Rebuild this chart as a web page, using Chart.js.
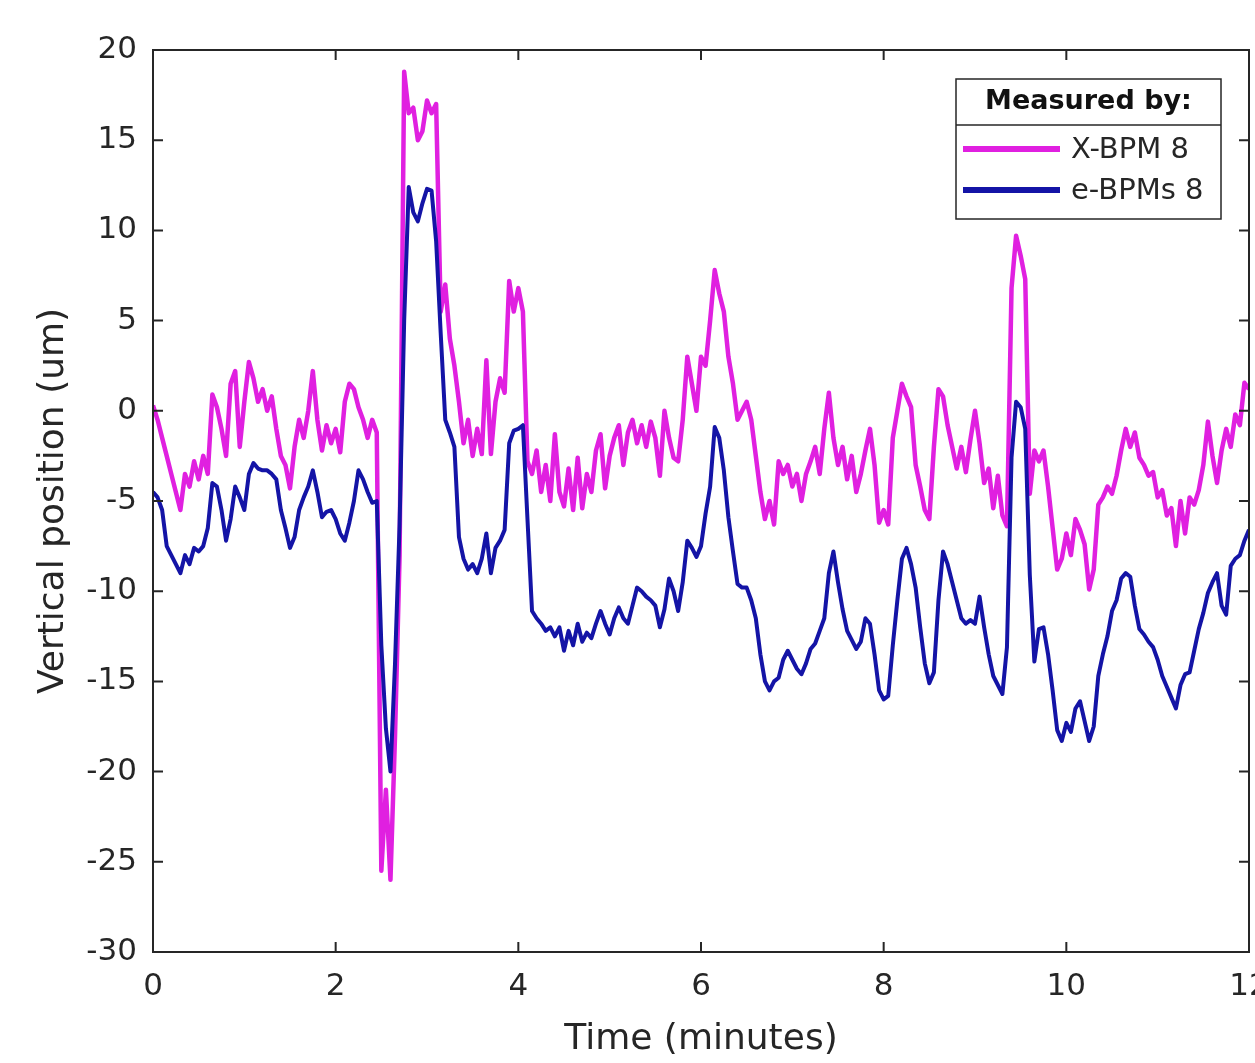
<!DOCTYPE html>
<html>
<head>
<meta charset="utf-8">
<title>Vertical position</title>
<script src="https://cdn.jsdelivr.net/npm/chart.js@4.4.1/dist/chart.umd.min.js"></script>
<style>
  html, body { margin: 0; padding: 0; background: #ffffff; }
  canvas { display: block; }
</style>
</head>
<body>
<canvas id="chart" width="1255" height="1063"></canvas>
<script>
// sampling grid (minutes), one sample every 0.05 min
const sampleStep = 0.05;
const times = Array.from({ length: 241 }, (_, i) => +(i * sampleStep).toFixed(2));

// X-BPM 8, one row per minute
const xbpm8 = [
  0.3, -0.5, -1.5, -2.5, -3.5, -4.5, -5.5, -3.5, -4.2, -2.8, -3.8, -2.5, -3.5, 0.9, 0.2, -1.0, -2.5, 1.5, 2.2, -2.0,
  0.5, 2.7, 1.8, 0.5, 1.2, 0.0, 0.8, -1.0, -2.5, -3.0, -4.3, -2.0, -0.5, -1.5, 0.0, 2.2, -0.5, -2.2, -0.8, -1.8,
  -1.0, -2.3, 0.5, 1.5, 1.2, 0.2, -0.5, -1.5, -0.5, -1.2, -25.5, -21.0, -26.0, -18.0, -8.0, 18.8, 16.5, 16.8, 15.0, 15.5,
  17.2, 16.5, 17.0, 5.5, 7.0, 4.0, 2.5, 0.5, -1.8, -0.5, -2.5, -1.0, -2.4, 2.8, -2.4, 0.5, 1.8, 1.0, 7.2, 5.5,
  6.8, 5.5, -2.8, -3.5, -2.2, -4.5, -3.0, -5.0, -1.3, -4.5, -5.3, -3.2, -5.5, -2.6, -5.4, -3.5, -4.5, -2.2, -1.3, -4.3,
  -2.5, -1.5, -0.8, -3.0, -1.2, -0.5, -1.8, -0.8, -2.0, -0.6, -1.5, -3.6, 0.0, -1.5, -2.6, -2.8, -0.5, 3.0, 1.5, 0.0,
  3.0, 2.5, 5.0, 7.8, 6.5, 5.5, 3.0, 1.5, -0.5, 0.0, 0.5, -0.5, -2.5, -4.5, -6.0, -5.0, -6.3, -2.8, -3.5, -3.0,
  -4.2, -3.5, -5.0, -3.5, -2.8, -2.0, -3.5, -1.0, 1.0, -1.5, -3.0, -2.0, -3.8, -2.5, -4.5, -3.5, -2.2, -1.0, -3.0, -6.2,
  -5.5, -6.3, -1.5, 0.0, 1.5, 0.8, 0.2, -3.0, -4.2, -5.5, -6.0, -2.0, 1.2, 0.8, -0.8, -2.0, -3.2, -2.0, -3.4, -1.6,
  0.0, -1.8, -4.0, -3.2, -5.4, -3.6, -5.8, -6.4, 6.8, 9.7, 8.6, 7.3, -4.6, -2.2, -2.8, -2.2, -4.2, -6.5, -8.8, -8.2,
  -6.8, -8.0, -6.0, -6.6, -7.4, -9.9, -8.8, -5.2, -4.8, -4.2, -4.6, -3.6, -2.2, -1.0, -2.0, -1.2, -2.6, -3.0, -3.6, -3.4,
  -4.8, -4.4, -5.8, -5.4, -7.5, -5.0, -6.8, -4.8, -5.2, -4.4, -3.0, -0.6, -2.5, -4.0, -2.2, -1.0, -2.0, -0.2, -0.8, 1.55,
  1.2
];

// e-BPMs 8, one row per minute
const ebpms8 = [
  -4.5, -4.8, -5.5, -7.5, -8.0, -8.5, -9.0, -8.0, -8.5, -7.6, -7.8, -7.5, -6.5, -4.0, -4.2, -5.5, -7.2, -6.0, -4.2, -4.8,
  -5.5, -3.5, -2.9, -3.2, -3.3, -3.3, -3.5, -3.8, -5.5, -6.5, -7.6, -7.0, -5.5, -4.8, -4.2, -3.3, -4.5, -5.9, -5.6, -5.5,
  -6.0, -6.8, -7.2, -6.2, -5.0, -3.3, -3.8, -4.5, -5.1, -5.0, -13.0, -17.6, -20.0, -14.0, -6.3, 5.0, 12.4, 11.0, 10.5, 11.5,
  12.3, 12.2, 9.4, 4.3, -0.5, -1.2, -2.0, -7.0, -8.2, -8.8, -8.5, -9.0, -8.2, -6.8, -9.0, -7.6, -7.2, -6.6, -1.8, -1.1,
  -1.0, -0.8, -6.0, -11.1, -11.5, -11.8, -12.2, -12.0, -12.5, -12.0, -13.3, -12.2, -13.0, -11.8, -12.8, -12.3, -12.6, -11.8, -11.1, -11.8,
  -12.4, -11.5, -10.9, -11.5, -11.8, -10.8, -9.8, -10.0, -10.3, -10.5, -10.8, -12.0, -11.0, -9.3, -10.0, -11.1, -9.5, -7.2, -7.6, -8.1,
  -7.5, -5.7, -4.2, -0.9, -1.5, -3.3, -5.9, -7.8, -9.6, -9.8, -9.8, -10.5, -11.5, -13.5, -15.0, -15.5, -15.0, -14.8, -13.8, -13.3,
  -13.8, -14.3, -14.6, -14.0, -13.2, -12.9, -12.2, -11.5, -9.0, -7.8, -9.5, -11.0, -12.2, -12.7, -13.2, -12.8, -11.5, -11.8, -13.5, -15.5,
  -16.0, -15.8, -13.0, -10.5, -8.2, -7.6, -8.5, -9.8, -12.0, -14.0, -15.1, -14.5, -10.5, -7.8, -8.5, -9.5, -10.5, -11.5, -11.8, -11.6,
  -11.8, -10.3, -12.0, -13.5, -14.7, -15.2, -15.7, -13.1, -2.6, 0.5, 0.2, -1.0, -9.1, -13.9, -12.1, -12.0, -13.5, -15.5, -17.7, -18.3,
  -17.3, -17.8, -16.5, -16.1, -17.2, -18.3, -17.5, -14.7, -13.5, -12.5, -11.1, -10.5, -9.3, -9.0, -9.2, -10.8, -12.1, -12.4, -12.8, -13.1,
  -13.8, -14.7, -15.3, -15.9, -16.5, -15.2, -14.6, -14.5, -13.3, -12.1, -11.2, -10.1, -9.5, -9.0, -10.8, -11.3, -8.6, -8.2, -8.0, -7.2,
  -6.6
];

const seriesNames = ["X-BPM 8", "e-BPMs 8"];
const seriesColors = ["#e020e0", "#1414a6"];
const legendTitle = "Measured by:";

const FONT = "'DejaVu Sans', sans-serif";
const INK = "#262626";

// MATLAB style box with inward ticks, plus the boxed legend
const matlabFrame = {
  id: "matlabFrame",
  afterDraw(chart) {
    const { ctx, chartArea: a, scales: { x, y } } = chart;
    const tick = 10;
    ctx.save();
    ctx.strokeStyle = INK;
    ctx.lineWidth = 2;
    ctx.strokeRect(a.left, a.top, a.right - a.left, a.bottom - a.top);
    ctx.beginPath();
    x.ticks.forEach((t, i) => {
      const px = x.getPixelForTick(i);
      ctx.moveTo(px, a.bottom); ctx.lineTo(px, a.bottom - tick);
      ctx.moveTo(px, a.top); ctx.lineTo(px, a.top + tick);
    });
    y.ticks.forEach((t, i) => {
      const py = y.getPixelForTick(i);
      ctx.moveTo(a.left, py); ctx.lineTo(a.left + tick, py);
      ctx.moveTo(a.right, py); ctx.lineTo(a.right - tick, py);
    });
    ctx.stroke();

    // legend
    const lx = a.right - 293, ly = a.top + 29, lw = 265, lh = 140;
    ctx.fillStyle = "#ffffff";
    ctx.fillRect(lx, ly, lw, lh);
    ctx.lineWidth = 1.5;
    ctx.strokeRect(lx, ly, lw, lh);
    ctx.beginPath();
    ctx.moveTo(lx, ly + 46); ctx.lineTo(lx + lw, ly + 46);
    ctx.stroke();
    ctx.fillStyle = "#111111";
    ctx.textBaseline = "middle";
    ctx.textAlign = "center";
    ctx.font = "bold 27px " + FONT;
    ctx.fillText(legendTitle, lx + lw / 2, ly + 23);
    ctx.textAlign = "left";
    ctx.font = "29px " + FONT;
    chart.data.datasets.forEach((ds, i) => {
      const rowY = ly + 70 + i * 41;
      ctx.strokeStyle = ds.borderColor;
      ctx.lineWidth = 6;
      ctx.beginPath();
      ctx.moveTo(lx + 7, rowY); ctx.lineTo(lx + 104, rowY);
      ctx.stroke();
      ctx.fillStyle = INK;
      ctx.fillText(ds.label, lx + 115, rowY + 1);
    });
    ctx.restore();
  }
};

const data = {
  labels: times,
  datasets: [
    { label: seriesNames[0], data: xbpm8, borderColor: seriesColors[0], borderWidth: 4.5, order: 2 },
    { label: seriesNames[1], data: ebpms8, borderColor: seriesColors[1], borderWidth: 4, order: 1 }
  ]
};

const config = {
  type: "line",
  data: data,
  options: {
    responsive: false,
    devicePixelRatio: 1,
    animation: false,
    layout: { padding: { top: 50, right: 6, left: 0, bottom: 0 } },
    elements: {
      line: { tension: 0, fill: false, borderJoinStyle: "round" },
      point: { radius: 0, hoverRadius: 0 }
    },
    plugins: {
      legend: { display: false },
      tooltip: { enabled: false }
    },
    scales: {
      x: {
        type: "linear",
        min: 0,
        max: 12,
        grid: { display: false, drawTicks: false },
        border: { display: true, color: INK, width: 2 },
        ticks: {
          stepSize: 2,
          padding: 16,
          maxRotation: 0,
          color: INK,
          font: { family: FONT, size: 31 }
        },
        title: {
          display: true,
          text: "Time (minutes)",
          color: INK,
          font: { family: FONT, size: 36 },
          padding: { top: 0, bottom: 2 }
        },
        afterFit(scale) {
          scale.height = 111;
          scale.paddingLeft = 0;
          scale.paddingRight = 0;
        }
      },
      y: {
        type: "linear",
        min: -30,
        max: 20,
        grid: { display: false, drawTicks: false },
        border: { display: true, color: INK, width: 2 },
        ticks: {
          stepSize: 5,
          padding: 16,
          color: INK,
          font: { family: FONT, size: 31 }
        },
        title: {
          display: true,
          text: "Vertical position (um)",
          color: INK,
          font: { family: FONT, size: 36 },
          padding: { top: 32, bottom: 0 }
        },
        afterFit(scale) {
          scale.width = 153;
        }
      }
    }
  },
  plugins: [matlabFrame]
};

new Chart(document.getElementById("chart").getContext("2d"), config);
</script>
</body>
</html>
